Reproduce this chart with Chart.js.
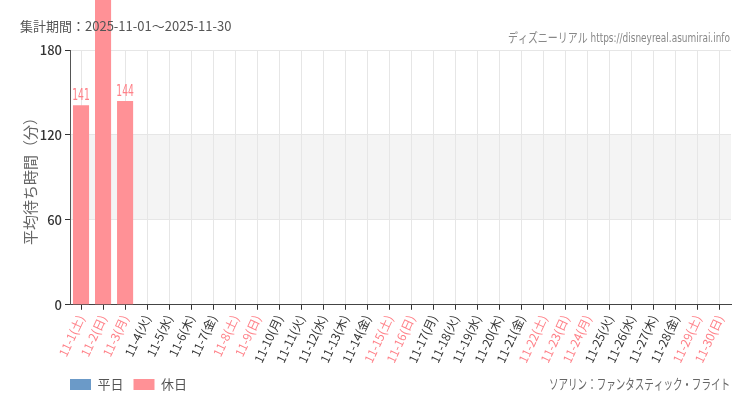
<!DOCTYPE html>
<html>
<head>
<meta charset="utf-8">
<script src="https://cdn.jsdelivr.net/npm/chart.js@4.4.1/dist/chart.umd.min.js"></script>
<style>
  html, body { margin: 0; background: #fff; }
  #wrap { width: 750px; height: 410px; }
</style>
</head>
<body>
<div id="wrap"><canvas id="chart"></canvas></div>
<script>
// ---- data ----
const days = ['11-1','11-2','11-3','11-4','11-5','11-6','11-7','11-8','11-9','11-10',
  '11-11','11-12','11-13','11-14','11-15','11-16','11-17','11-18','11-19','11-20',
  '11-21','11-22','11-23','11-24','11-25','11-26','11-27','11-28','11-29','11-30'];
const dows = ['土','日','月','火','水','木','金','土','日','月',
  '火','水','木','金','土','日','月','火','水','木',
  '金','土','日','月','火','水','木','金','土','日'];
const holidayFlags = [1,1,1,0,0,0,0,1,1,0, 0,0,0,0,1,1,0,0,0,0, 0,1,1,1,0,0,0,0,1,1];
const weekdayWaits = [null,null,null,null,null,null,null,null,null,null,
  null,null,null,null,null,null,null,null,null,null,
  null,null,null,null,null,null,null,null,null,null];
const holidayWaits = [141,230,144,null,null,null,null,null,null,null,
  null,null,null,null,null,null,null,null,null,null,
  null,null,null,null,null,null,null,null,null,null];
const yTicks = [0, 60, 120, 180];
const bandRange = [60, 120];

const PINK = '#ff9196';
const PINK_TEXT = '#ff8088';
const BLUE = '#6b9ac8';
const JP = "'Noto Sans CJK JP', 'Noto Sans', sans-serif";
const COND = "'DejaVu Sans Condensed', 'Noto Sans CJK JP', sans-serif";

const labels = days.map((d, i) => `${d}(${dows[i]})`);

// draw text squeezed horizontally to a target width (the source uses a narrow face)
function fitText(c, text, x, y, align, width) {
  const w = c.measureText(text).width;
  const k = Math.min(1, width / w);
  c.save();
  c.translate(x, y);
  c.scale(k, 1);
  c.textAlign = align;
  c.fillText(text, 0, 0);
  c.restore();
}

// ---- plugins ----
const bandPlugin = {
  id: 'band',
  beforeDraw(chart) {
    const { ctx, chartArea: { left, right } } = chart;
    const y = chart.scales.y;
    const top = y.getPixelForValue(bandRange[1]);
    const bottom = y.getPixelForValue(bandRange[0]);
    ctx.save();
    ctx.fillStyle = '#f4f4f4';
    ctx.fillRect(left, top, right - left, bottom - top);
    ctx.restore();
  }
};

const valueLabels = {
  id: 'valueLabels',
  afterDatasetsDraw(chart) {
    const c = chart.ctx;
    c.save();
    c.font = `16px ${COND}`;
    c.textBaseline = 'bottom';
    chart.data.datasets.forEach((ds, di) => {
      const meta = chart.getDatasetMeta(di);
      meta.data.forEach((bar, i) => {
        const v = ds.data[i];
        if (v == null) return;
        c.fillStyle = di === 1 ? PINK_TEXT : BLUE;
        c.save();
        c.translate(bar.x, bar.y - 1);
        c.scale(0.64, 1);
        c.textAlign = 'center';
        c.fillText(String(v), 0, 0);
        c.restore();
      });
    });
    c.restore();
  }
};

const texts = {
  id: 'texts',
  afterLayout(chart) {
    // line legend up with the plot's left edge
    if (chart.legend) chart.legend.left = chart.chartArea.left - 10;
  },
  afterDraw(chart) {
    const c = chart.ctx;
    c.save();
    c.textBaseline = 'middle';
    c.fillStyle = '#555';
    c.font = `13px ${JP}`;
    c.textAlign = 'left';
    c.fillText('集計期間：2025-11-01～2025-11-30', 20, 26);
    c.fillStyle = '#888';
    c.font = `13px ${COND}`;
    fitText(c, 'ディズニーリアル https://disneyreal.asumirai.info', 730, 39, 'right', 222);
    c.fillStyle = '#666';
    c.font = `14px ${JP}`;
    fitText(c, 'ソアリン：ファンタスティック・フライト', 730, 384, 'right', 181);
    c.restore();
  }
};

new Chart(document.getElementById('chart'), {
  type: 'bar',
  data: {
    labels,
    datasets: [
      { label: '平日', data: weekdayWaits, backgroundColor: BLUE, clip: false },
      { label: '休日', data: holidayWaits, backgroundColor: PINK, clip: false },
    ],
  },
  options: {
    responsive: true,
    maintainAspectRatio: false,
    animation: false,
    devicePixelRatio: 1,
    datasets: { bar: { grouped: false, categoryPercentage: 1, barPercentage: 0.73 } },
    layout: { padding: { top: 50, right: 19, left: 17, bottom: 9 } },
    scales: {
      x: {
        grid: { color: '#e6e6e6', offset: false, tickColor: '#333', tickLength: 5 },
        border: { color: '#444' },
        ticks: {
          autoSkip: false,
          minRotation: 65,
          maxRotation: 65,
          padding: 3,
          font: { family: JP, size: 12 },
          color: ctx => holidayFlags[ctx.index] ? PINK_TEXT : '#333',
        },
      },
      y: {
        min: 0,
        max: 180,
        afterBuildTicks: s => { s.ticks = yTicks.map(v => ({ value: v })); },
        afterFit: s => { s.width = 53; },
        grid: { color: '#e6e6e6', tickColor: '#333', tickLength: 5 },
        border: { color: '#555' },
        ticks: { padding: 3, color: '#333', font: { family: JP, size: 13, weight: '500' } },
        title: { display: true, text: '平均待ち時間（分）', color: '#666', font: { family: JP, size: 15 } },
      },
    },
    plugins: {
      legend: {
        display: true,
        position: 'bottom',
        align: 'start',
        labels: { boxWidth: 21, boxHeight: 11, color: '#555', font: { family: JP, size: 13 } },
      },
      tooltip: { enabled: false },
    },
  },
  plugins: [bandPlugin, valueLabels, texts],
});
</script>
</body>
</html>
